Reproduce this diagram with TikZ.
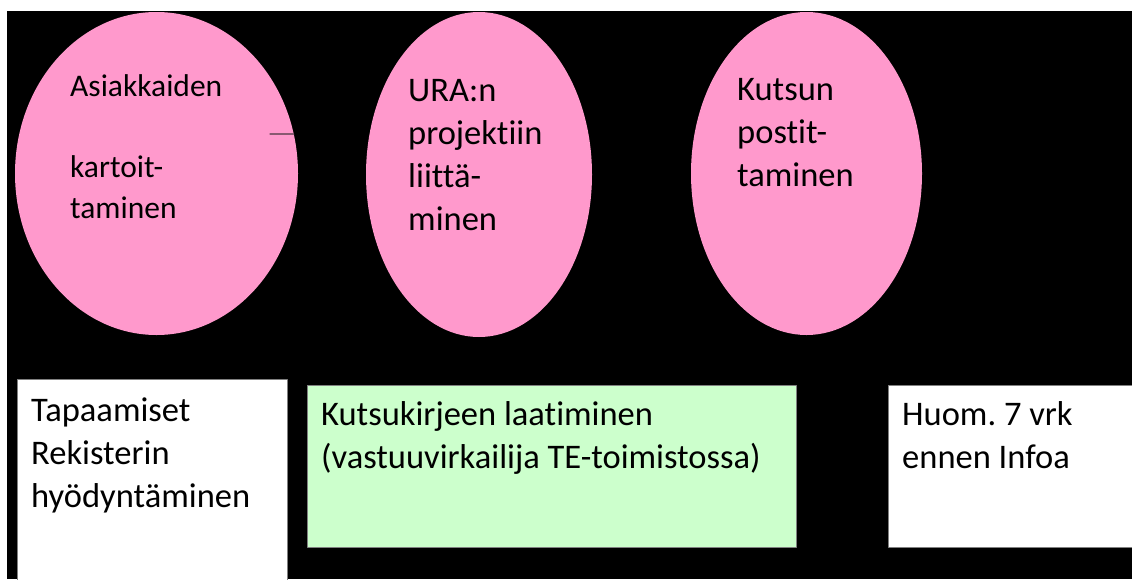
\documentclass[tikz,border=0pt]{standalone}
\usepackage{fontspec}
\setmainfont{Carlito}[Ligatures=NoCommon]
\usetikzlibrary{shapes.geometric}
\definecolor{bubblepink}{RGB}{255,153,204}
\definecolor{notegreen}{RGB}{204,255,204}
\definecolor{stubgray}{RGB}{75,55,65}
\frenchspacing

\begin{document}
\begin{tikzpicture}[
	x=1pt,
	y=-1pt,
	line cap=round,
	line join=round,
	bubble/.style={ellipse,fill=bubblepink,inner sep=0pt},
	card/.style={draw=gray,line width=0.8pt,inner sep=0pt,anchor=north west},
	txt/.style={anchor=base west,align=left,inner sep=0pt,font=\fontsize{34.5}{43}\selectfont}
	]
	\useasboundingbox (0,0) rectangle (1132,579);
	\fill[black] (7,11) rectangle (1132,579);
	% ellipses
	\node[bubble,minimum width=283pt,minimum height=323pt] (kartoitus) at (156.5,173.5) {};
	\node[bubble,minimum width=226pt,minimum height=325pt] (liittaminen) at (479,174.5) {};
	\node[bubble,minimum width=231pt,minimum height=323pt] (postitus) at (806.5,173.5) {};
	% base = last line
	\node[txt,font=\fontsize{31.5}{41}\selectfont] (kartoitusteksti) at (70,218) {Asiakkaiden\\[40pt]kartoit-\\taminen};
	\node[txt] (liittamisteksti) at (408,230) {URA:n\\projektiin\\liittä-\\minen};
	\node[txt] (postitusteksti) at (737,186) {Kutsun\\postit-\\taminen};
	\coordinate (stub) at (270,134);
	\draw[stubgray,line width=1.2pt] (stub) -- (kartoitus.16);
	% boxes
	\node[card,fill=white,minimum width=270pt,minimum height=215pt] (tapaamiset) at (17,379) {};
	\node[card,fill=notegreen,minimum width=489pt,minimum height=162pt] (kutsukirje) at (307,385) {};
	\node[card,fill=white,minimum width=260pt,minimum height=162pt] (huom) at (888,385) {};
	\node[txt] (tapaamisteksti) at (31,507) {Tapaamiset\\Rekisterin\\hyödyntäminen};
	\node[txt] (kutsukirjeteksti) at (321,468) {Kutsukirjeen laatiminen\\(vastuuvirkailija TE-toimistossa)};
	\node[txt] (huomteksti) at (902,468) {Huom. 7 vrk\\ennen Infoa};
\end{tikzpicture}
\end{document}
